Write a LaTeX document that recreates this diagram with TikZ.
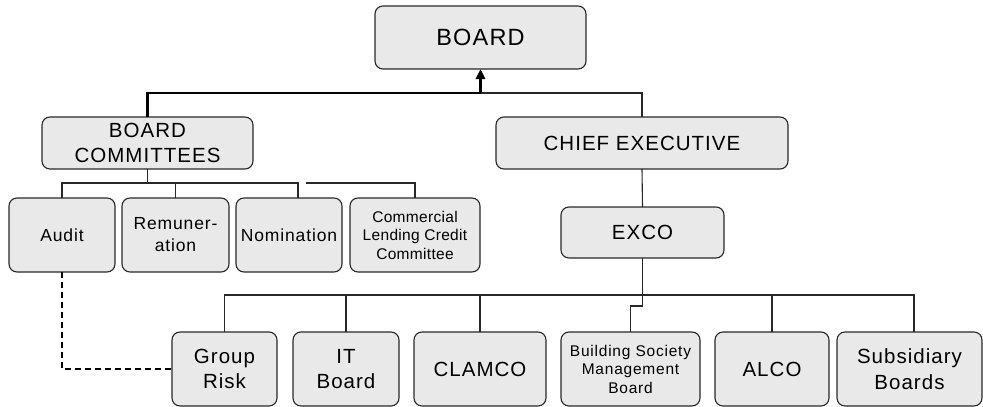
\documentclass[tikz,border=0pt]{standalone}
\usepackage{fontspec}
\setmainfont{Liberation Sans}[LetterSpace=5]
\usetikzlibrary{arrows.meta,calc}
\definecolor{boxgray}{RGB}{233,233,233}
\definecolor{edge}{RGB}{40,40,40}
\tikzset{
  box/.style={draw=edge, line width=1.1pt, fill=boxgray, rounded corners=8pt,
    align=center, inner sep=0pt, outer sep=0pt},
  fbig/.style={font=\fontsize{23.5}{28}\selectfont},
  fmid/.style={font=\fontsize{20.5}{25.5}\selectfont},
  fcom/.style={font=\fontsize{17.5}{22}\selectfont},
  fsml/.style={font=\fontsize{15.5}{18.5}\selectfont},
  link/.style={draw=edge, line width=1.1pt},
  mainlink/.style={draw=black, line width=2.8pt},
  dotlink/.style={draw=black, line width=2.4pt, dash pattern=on 6pt off 4pt},
}
\begin{document}
\begin{tikzpicture}[x=1pt,y=-1pt]
\useasboundingbox (0,0) rectangle (983,407);
% top
\node[box,fbig,minimum width=211pt,minimum height=63pt] (BOARD) at (480.5,37.5) {BOARD};
\node[box,fmid,minimum width=211pt,minimum height=52pt] (BC) at (147.5,143) {BOARD\\COMMITTEES};
\node[box,fmid,minimum width=292pt,minimum height=52pt] (CE) at (642,143) {CHIEF EXECUTIVE};
% committees
\node[box,fcom,minimum width=106pt,minimum height=74pt] (AUD) at (62,235) {Audit};
\node[box,fcom,minimum width=107pt,minimum height=74pt] (REM) at (175.5,235) {Remuner-\\ation};
\node[box,fcom,minimum width=106pt,minimum height=74pt] (NOM) at (289,235) {Nomination};
\node[box,fsml,minimum width=130pt,minimum height=74pt] (CLC) at (415,235) {\addfontfeature{LetterSpace=2}Commercial\\\addfontfeature{LetterSpace=2}Lending Credit\\\addfontfeature{LetterSpace=2}Committee};
% exco
\node[box,fmid,minimum width=163pt,minimum height=51pt] (EXCO) at (642.5,232.5) {EXCO};
% bottom row
\node[box,fmid,minimum width=105pt,minimum height=74pt] (GR) at (224.5,369) {Group\\Risk};
\node[box,fmid,minimum width=106pt,minimum height=74pt] (IT) at (346,369) {IT\\Board};
\node[box,fmid,minimum width=132pt,minimum height=74pt] (CLAM) at (480,369) {CLAMCO};
\node[box,fsml,minimum width=139pt,minimum height=74pt] (BS) at (630.5,369) {Building Society\\Management\\Board};
\node[box,fmid,minimum width=114pt,minimum height=74pt] (ALCO) at (772,369) {ALCO};
\node[box,fmid,minimum width=145pt,minimum height=74pt] (SB) at (909.5,369) {Subsidiary\\Boards};
% connectors top
\coordinate (j1) at (480.5,93);
\draw[mainlink,-{Triangle[length=10pt,width=9pt]}] (BC.north) |- (j1) -- (BOARD.south);
\draw[link] (j1) -| (CE.north);
\draw[link] (CE.south) -- (EXCO.north);
% committees bar
\coordinate (c0) at (147.5,183);
\coordinate (g1) at (298,183);
\coordinate (g2) at (306,183);
\draw[link] (BC.south) -- (c0);
\draw[link] (AUD.north) |- (g1) -- (g1 |- NOM.north);
\draw[link] (REM.north) -- (REM.north |- c0);
\draw[link] (g2) -| (CLC.north);
% exco bar
\coordinate (e0) at (642.5,295);
\coordinate (e1) at (642.5,306);
\coordinate (s6) at (914,295);
\draw[link] (EXCO.south) -- (e1) -| (BS.north);
\draw[link] (GR.north) |- (s6) -- (s6 |- SB.north);
\draw[link] (IT.north) -- (IT.north |- e0);
\draw[link] (CLAM.north) -- (CLAM.north |- e0);
\draw[link] (ALCO.north) -- (ALCO.north |- e0);
% dotted audit link
\draw[dotlink] (AUD.south) |- (GR.west);
\end{tikzpicture}
\end{document}
